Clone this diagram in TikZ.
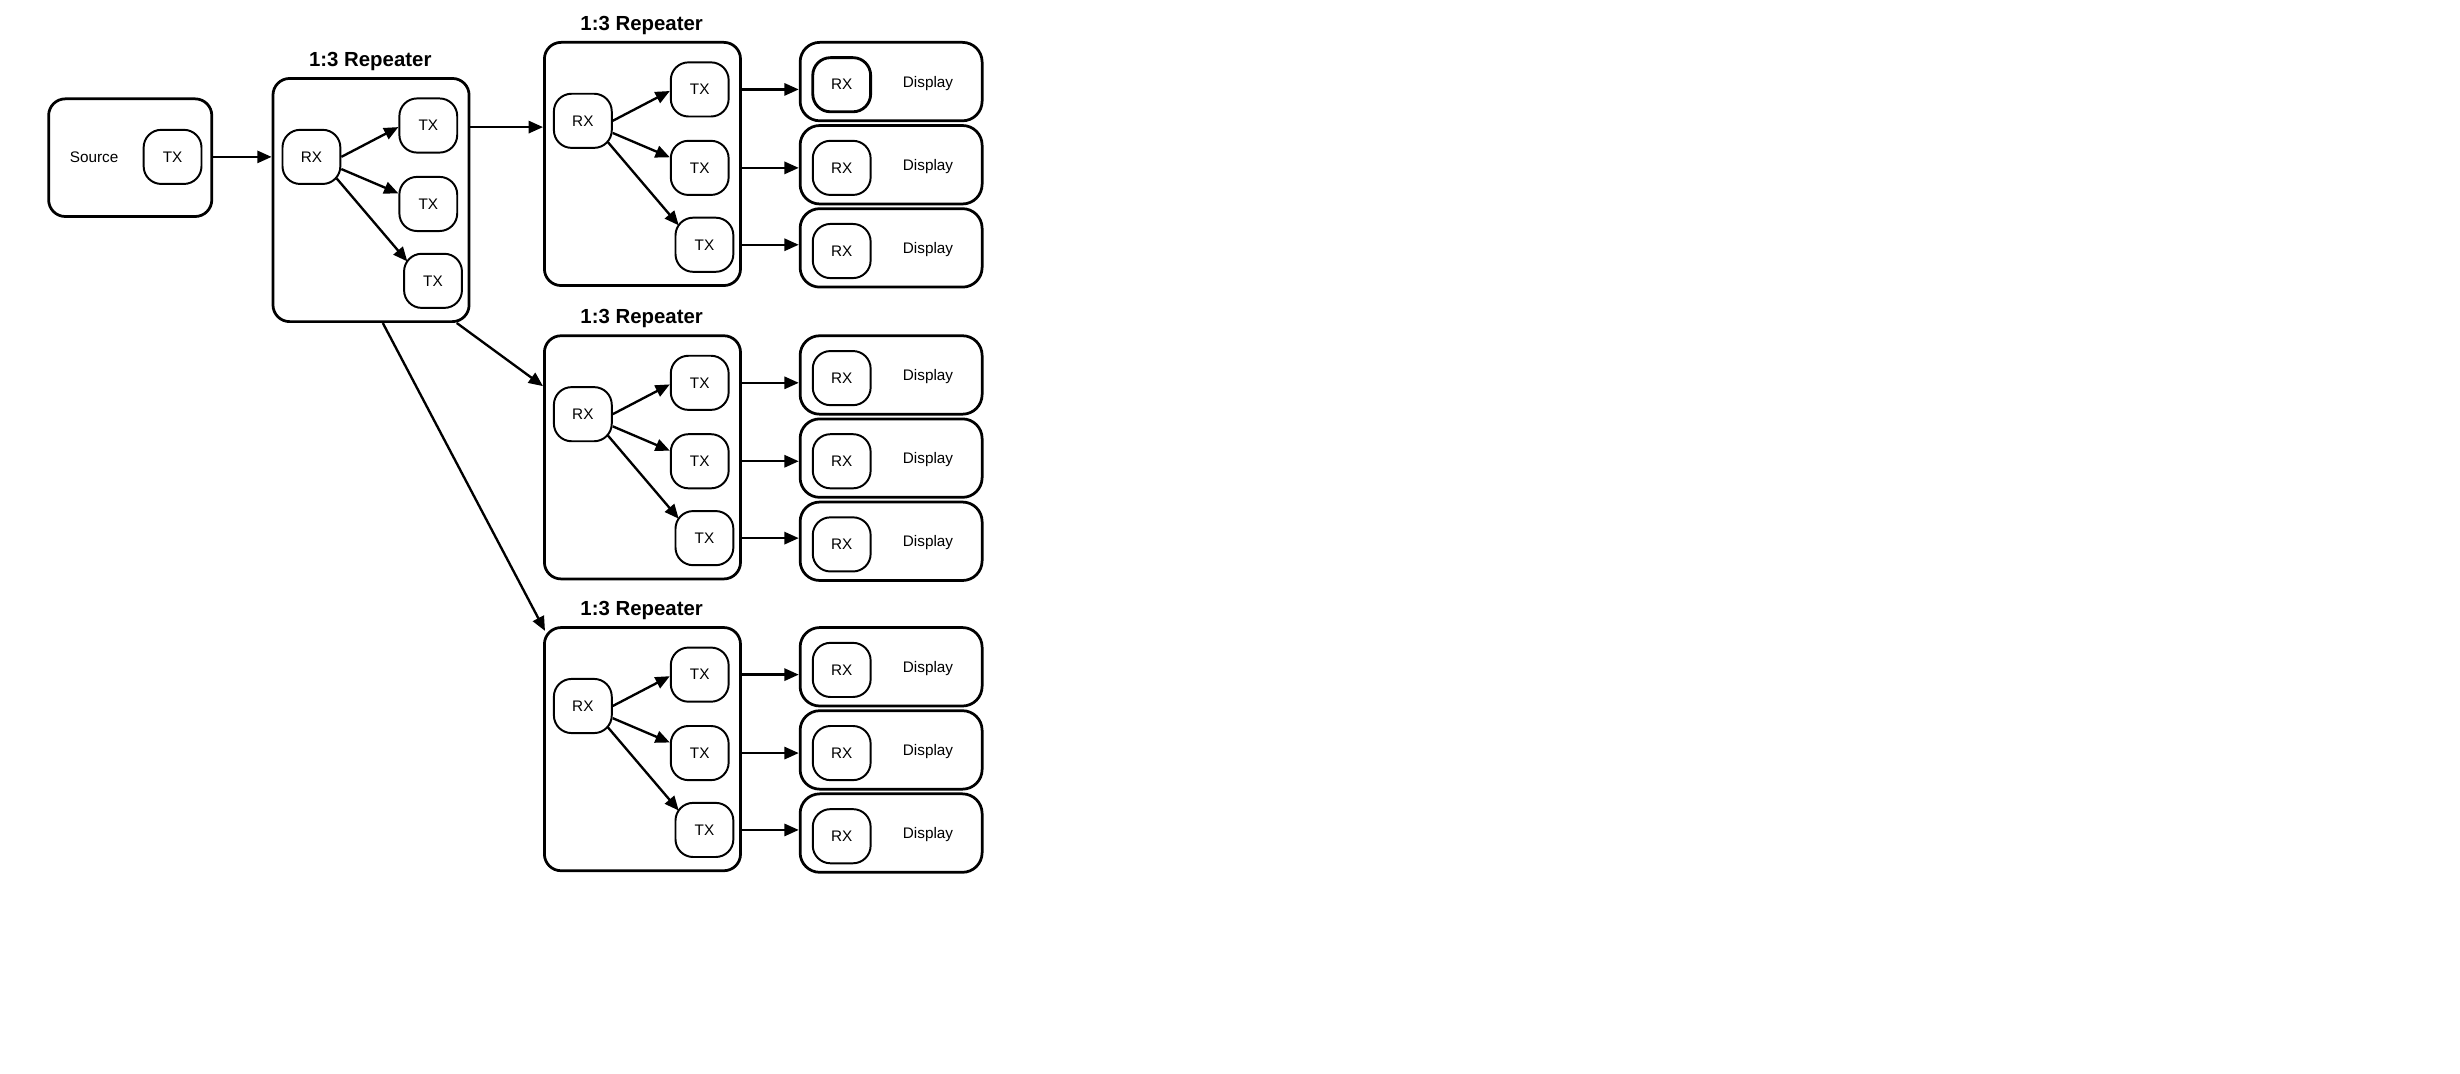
\documentclass[tikz,border=0pt]{standalone}
\usepackage{fontspec}
\setmainfont{Liberation Sans}
\usetikzlibrary{arrows.meta,calc}
\tikzset{
  bigbox/.style={draw, line width=1.4pt, rounded corners=8.5pt, inner sep=0pt},
  dispbox/.style={draw, line width=1.4pt, rounded corners=10pt, inner sep=0pt, minimum width=92.8pt, minimum height=40pt},
  small/.style={draw, line width=1pt, rounded corners=9pt, inner sep=0pt, minimum width=29.5pt, minimum height=27.6pt, font=\fontsize{7.8}{9}\selectfont},
  lbl/.style={inner sep=0pt, font=\fontsize{7.8}{9}\selectfont},
  ttl/.style={inner sep=0pt, font=\fontsize{10.4}{12}\selectfont\bfseries},
  arr/.style={line width=1.2pt, -{Triangle[length=7.3pt,width=6.2pt]}}
}
\newcommand\mkrep[3]{%
  \node[bigbox, minimum width=100pt, minimum height=124pt] (#1) at (#2+62.5, #3+77.5) {};
  \node[ttl] (#1title) at (#2+62, #3-11) {1:3 Repeater};
  \node[small] (#1rx) at (#2+24.5, #3+50) {RX};
  \node[small] (#1ta) at (#2+99, #3+30) {TX};
  \node[small] (#1tb) at (#2+99, #3+80) {TX};
  \node[small] (#1tc) at (#2+102, #3+129) {TX};
  \draw[arr] (#1rx.east) -- ([yshift=-0.8pt]#1ta.west);
  \draw[arr] ([yshift=-6.2pt]#1rx.east) -- ([yshift=5.4pt]#1tb.west);
  \draw[arr] ([xshift=12.8pt,yshift=-10.9pt]#1rx.center) -- ([xshift=-13.1pt,yshift=9.9pt]#1tc.center);
}
\newcommand\mkdisp[3]{%
  \node[dispbox] (#1) at (568, #2+25) {};
  \node[small, line width=#3] (#1rx) at (536.5, #2+27) {RX};
  \node[lbl] (#1lbl) at (591.5, #2+26) {Display};
}
\newcommand\mkgroup[3]{%
  \mkrep{#1}{347}{#2}
  \mkdisp{#1da}{#2}{#3}
  \mkdisp{#1db}{#2+53}{1pt}
  \mkdisp{#1dc}{#2+106}{1pt}
  \draw[arr] (#1ta -| #1.east) -- (#1ta -| #1da.west);
  \draw[arr] (#1tb -| #1.east) -- (#1tb -| #1db.west);
  \draw[arr] (#1tc -| #1.east) -- (#1tc -| #1dc.west);
}
\begin{document}
\begin{tikzpicture}[x=0.8pt, y=-0.8pt]
\useasboundingbox (0,0) rectangle (1568,684);
% source
\node[bigbox, minimum width=83.2pt, minimum height=60pt] (src) at (83,100.5) {};
\node[lbl] (srclbl) at (60,100) {Source};
\node[small] (srctx) at (110,100) {TX};
% first repeater
\mkrep{rone}{174}{50}
% second level repeaters with displays
\mkgroup{rtwo}{27}{1.45pt}
\mkgroup{rthree}{214}{1pt}
\mkgroup{rfour}{400}{1pt}
% connections
\draw[arr] (srctx -| src.east) -- (srctx -| rone.west);
\draw[arr] ([yshift=-0.8pt]roneta -| rone.east) -- ([yshift=-0.8pt]roneta -| rtwo.west);
\draw[arr] ([xshift=-7pt]rone.south east) -- ([yshift=-26.4pt]rthree.north west);
\draw[arr] ([xshift=6pt]rone.south) -- ([xshift=1pt,yshift=-2.4pt]rfour.north west);
\end{tikzpicture}
\end{document}
